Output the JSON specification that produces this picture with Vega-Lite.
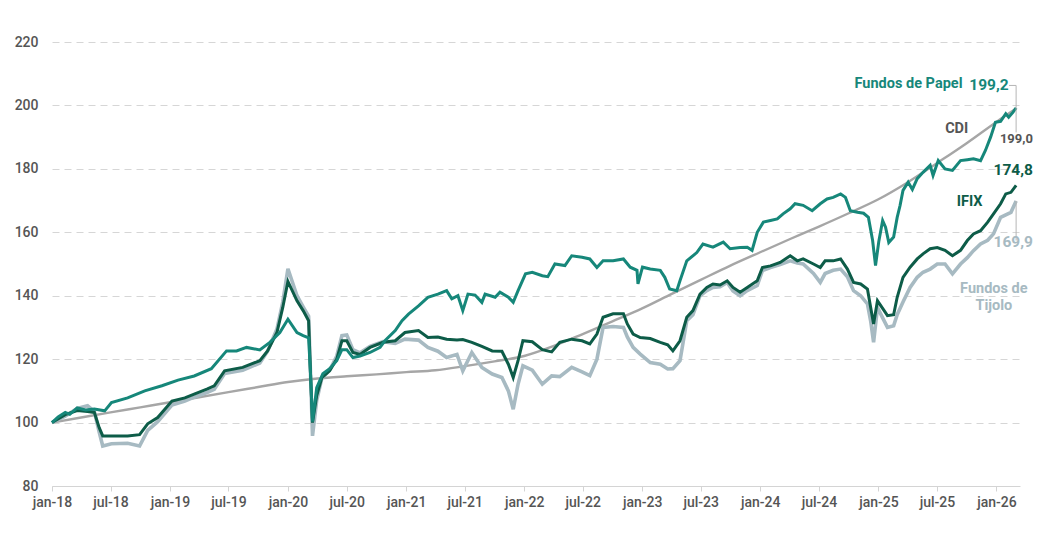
{
  "$schema": "https://vega.github.io/schema/vega-lite/v6.json",
  "width": 968,
  "height": 444,
  "autosize": {"type": "none"},
  "padding": {"left": 52, "top": 42, "right": 23, "bottom": 49},
  "config": {"font": "Roboto", "view": {"stroke": null}},
  "datasets": {
    "cdi": [
      {"d": "2018-01-01", "v": 100}, {"d": "2018-04-01", "v": 101.6}, {"d": "2018-07-01", "v": 103.2},
      {"d": "2018-10-01", "v": 104.8}, {"d": "2019-01-01", "v": 106.4}, {"d": "2019-04-01", "v": 108},
      {"d": "2019-07-01", "v": 109.6}, {"d": "2019-10-01", "v": 111.2}, {"d": "2020-01-01", "v": 112.8},
      {"d": "2020-04-01", "v": 113.9}, {"d": "2020-07-01", "v": 114.6}, {"d": "2020-10-01", "v": 115.2},
      {"d": "2021-01-01", "v": 115.9}, {"d": "2021-04-01", "v": 116.5}, {"d": "2021-07-01", "v": 117.8},
      {"d": "2021-10-01", "v": 119.3}, {"d": "2022-01-01", "v": 121.0}, {"d": "2022-04-01", "v": 124.1},
      {"d": "2022-07-01", "v": 127.9}, {"d": "2022-10-01", "v": 131.9}, {"d": "2023-01-01", "v": 136.0},
      {"d": "2023-04-01", "v": 140.5}, {"d": "2023-07-01", "v": 145.0}, {"d": "2023-10-01", "v": 149.5},
      {"d": "2024-01-01", "v": 153.7}, {"d": "2024-04-01", "v": 157.8}, {"d": "2024-07-01", "v": 161.8},
      {"d": "2024-10-01", "v": 166.0}, {"d": "2025-01-01", "v": 170.4}, {"d": "2025-04-01", "v": 175.7},
      {"d": "2025-07-01", "v": 181.8}, {"d": "2025-10-01", "v": 188.1}, {"d": "2026-01-01", "v": 194.8},
      {"d": "2026-03-03", "v": 199.0}
    ],
    "papel": [
      {"d": "2018-01-01", "v": 100}, {"d": "2018-01-20", "v": 101.8}, {"d": "2018-02-11", "v": 103.2},
      {"d": "2018-02-25", "v": 102.6}, {"d": "2018-03-20", "v": 104.6}, {"d": "2018-04-15", "v": 104.0},
      {"d": "2018-05-12", "v": 104.3}, {"d": "2018-06-13", "v": 103.7}, {"d": "2018-07-04", "v": 106.3},
      {"d": "2018-08-23", "v": 107.8}, {"d": "2018-10-15", "v": 110}, {"d": "2018-12-07", "v": 111.6},
      {"d": "2019-01-26", "v": 113.4}, {"d": "2019-03-17", "v": 114.7}, {"d": "2019-05-09", "v": 117},
      {"d": "2019-06-25", "v": 122.6}, {"d": "2019-07-26", "v": 122.6}, {"d": "2019-08-26", "v": 123.7},
      {"d": "2019-10-06", "v": 122.9}, {"d": "2019-11-06", "v": 125.3}, {"d": "2019-12-07", "v": 128.4},
      {"d": "2020-01-01", "v": 132.6}, {"d": "2020-01-29", "v": 128.4}, {"d": "2020-02-17", "v": 127.4},
      {"d": "2020-03-05", "v": 126.7}, {"d": "2020-03-11", "v": 115}, {"d": "2020-03-17", "v": 100.3},
      {"d": "2020-03-30", "v": 111}, {"d": "2020-04-18", "v": 115.4}, {"d": "2020-05-09", "v": 117},
      {"d": "2020-05-31", "v": 119.5}, {"d": "2020-06-16", "v": 123}, {"d": "2020-07-01", "v": 123},
      {"d": "2020-07-20", "v": 120.5}, {"d": "2020-08-11", "v": 121}, {"d": "2020-09-11", "v": 122.1},
      {"d": "2020-10-12", "v": 123.7}, {"d": "2020-10-27", "v": 125.8}, {"d": "2020-11-28", "v": 129},
      {"d": "2020-12-19", "v": 132.1}, {"d": "2021-01-08", "v": 134.2}, {"d": "2021-02-08", "v": 136.8},
      {"d": "2021-03-09", "v": 139.5}, {"d": "2021-04-09", "v": 140.5}, {"d": "2021-05-06", "v": 141.6},
      {"d": "2021-05-22", "v": 139}, {"d": "2021-06-10", "v": 140}, {"d": "2021-06-25", "v": 135.3},
      {"d": "2021-07-11", "v": 140.5}, {"d": "2021-08-02", "v": 140.2}, {"d": "2021-08-23", "v": 137.9},
      {"d": "2021-09-02", "v": 140.5}, {"d": "2021-10-03", "v": 139.5}, {"d": "2021-10-18", "v": 141.1},
      {"d": "2021-11-13", "v": 139.5}, {"d": "2021-11-28", "v": 137.9}, {"d": "2021-12-13", "v": 141.6},
      {"d": "2022-01-05", "v": 146.9}, {"d": "2022-01-26", "v": 147.4}, {"d": "2022-02-26", "v": 146.3},
      {"d": "2022-03-15", "v": 146}, {"d": "2022-04-06", "v": 150}, {"d": "2022-05-07", "v": 149.5},
      {"d": "2022-05-28", "v": 152.6}, {"d": "2022-06-29", "v": 152.1}, {"d": "2022-07-23", "v": 151.6},
      {"d": "2022-08-14", "v": 148.9}, {"d": "2022-09-02", "v": 151}, {"d": "2022-10-03", "v": 151},
      {"d": "2022-11-04", "v": 151.6}, {"d": "2022-11-25", "v": 149}, {"d": "2022-12-16", "v": 148},
      {"d": "2022-12-19", "v": 143.7}, {"d": "2023-01-02", "v": 149}, {"d": "2023-01-26", "v": 148.4},
      {"d": "2023-02-26", "v": 148}, {"d": "2023-03-12", "v": 145.8}, {"d": "2023-03-27", "v": 142.1},
      {"d": "2023-04-18", "v": 141.6}, {"d": "2023-04-28", "v": 144.7}, {"d": "2023-05-19", "v": 151},
      {"d": "2023-06-19", "v": 153.6}, {"d": "2023-07-08", "v": 156.3}, {"d": "2023-08-08", "v": 155.3},
      {"d": "2023-09-09", "v": 156.9}, {"d": "2023-09-30", "v": 154.8}, {"d": "2023-10-31", "v": 155.2},
      {"d": "2023-11-22", "v": 155.3}, {"d": "2023-12-07", "v": 154.3}, {"d": "2023-12-23", "v": 160},
      {"d": "2024-01-11", "v": 163.2}, {"d": "2024-02-02", "v": 163.7}, {"d": "2024-02-23", "v": 164.2},
      {"d": "2024-03-12", "v": 165.8}, {"d": "2024-04-03", "v": 167.4}, {"d": "2024-04-18", "v": 169},
      {"d": "2024-05-13", "v": 168.5}, {"d": "2024-06-10", "v": 166.8}, {"d": "2024-07-05", "v": 169},
      {"d": "2024-07-26", "v": 170.5}, {"d": "2024-08-14", "v": 171}, {"d": "2024-09-06", "v": 172.1},
      {"d": "2024-09-21", "v": 171}, {"d": "2024-10-06", "v": 166.8}, {"d": "2024-10-28", "v": 166.3},
      {"d": "2024-11-16", "v": 166}, {"d": "2024-12-01", "v": 164.7}, {"d": "2024-12-14", "v": 157.4},
      {"d": "2024-12-23", "v": 149.5}, {"d": "2025-01-02", "v": 157}, {"d": "2025-01-14", "v": 163.7},
      {"d": "2025-01-23", "v": 161.6}, {"d": "2025-02-02", "v": 156.8}, {"d": "2025-02-17", "v": 158.5},
      {"d": "2025-02-28", "v": 164.7}, {"d": "2025-03-09", "v": 168.5}, {"d": "2025-03-18", "v": 173.2},
      {"d": "2025-04-03", "v": 175.8}, {"d": "2025-04-16", "v": 173.5}, {"d": "2025-05-01", "v": 176.9},
      {"d": "2025-05-19", "v": 178.9}, {"d": "2025-06-10", "v": 181.1}, {"d": "2025-06-19", "v": 177.9},
      {"d": "2025-07-05", "v": 182.6}, {"d": "2025-07-26", "v": 180}, {"d": "2025-08-18", "v": 179.5},
      {"d": "2025-09-12", "v": 182.6}, {"d": "2025-10-03", "v": 182.9}, {"d": "2025-10-22", "v": 183.2},
      {"d": "2025-11-13", "v": 182.6}, {"d": "2025-11-28", "v": 185.8}, {"d": "2025-12-14", "v": 190},
      {"d": "2025-12-29", "v": 194.7}, {"d": "2026-01-14", "v": 195}, {"d": "2026-01-30", "v": 197.4},
      {"d": "2026-02-08", "v": 196.3}, {"d": "2026-02-21", "v": 197.8}, {"d": "2026-03-03", "v": 199.2}
    ],
    "ifix": [
      {"d": "2018-01-01", "v": 100}, {"d": "2018-02-11", "v": 102.5}, {"d": "2018-03-20", "v": 103.8},
      {"d": "2018-04-21", "v": 103.5}, {"d": "2018-05-12", "v": 103.2}, {"d": "2018-05-27", "v": 98.4},
      {"d": "2018-06-07", "v": 95.8}, {"d": "2018-07-04", "v": 95.8}, {"d": "2018-08-23", "v": 95.8},
      {"d": "2018-09-29", "v": 96.2}, {"d": "2018-10-24", "v": 99.6}, {"d": "2018-11-24", "v": 101.6},
      {"d": "2019-01-07", "v": 106.8}, {"d": "2019-02-16", "v": 107.8}, {"d": "2019-03-17", "v": 109},
      {"d": "2019-04-27", "v": 110.6}, {"d": "2019-05-18", "v": 111.6}, {"d": "2019-06-19", "v": 116.3},
      {"d": "2019-08-14", "v": 117.4}, {"d": "2019-10-06", "v": 119.5}, {"d": "2019-10-30", "v": 122.6},
      {"d": "2019-11-28", "v": 128.4}, {"d": "2019-12-16", "v": 136.3}, {"d": "2020-01-01", "v": 144.5},
      {"d": "2020-01-29", "v": 138.4}, {"d": "2020-02-17", "v": 135.3}, {"d": "2020-03-05", "v": 132.1},
      {"d": "2020-03-11", "v": 115}, {"d": "2020-03-17", "v": 100}, {"d": "2020-03-30", "v": 108.5},
      {"d": "2020-04-15", "v": 114.2}, {"d": "2020-05-09", "v": 116.3}, {"d": "2020-05-31", "v": 120},
      {"d": "2020-06-16", "v": 125.8}, {"d": "2020-07-01", "v": 125.8}, {"d": "2020-07-20", "v": 122.1},
      {"d": "2020-08-11", "v": 121.5}, {"d": "2020-09-11", "v": 123.7}, {"d": "2020-10-21", "v": 125.3},
      {"d": "2020-11-28", "v": 125.8}, {"d": "2020-12-28", "v": 128.4}, {"d": "2021-02-08", "v": 129},
      {"d": "2021-03-09", "v": 126.8}, {"d": "2021-04-09", "v": 127}, {"d": "2021-05-06", "v": 126.3},
      {"d": "2021-06-07", "v": 126}, {"d": "2021-06-25", "v": 126.2}, {"d": "2021-07-23", "v": 125.3},
      {"d": "2021-08-23", "v": 124}, {"d": "2021-09-24", "v": 122.6}, {"d": "2021-10-24", "v": 122.5},
      {"d": "2021-11-13", "v": 118.4}, {"d": "2021-11-28", "v": 114.2}, {"d": "2021-12-13", "v": 119.5},
      {"d": "2021-12-28", "v": 125.8}, {"d": "2022-01-26", "v": 125.5}, {"d": "2022-02-26", "v": 123},
      {"d": "2022-03-27", "v": 122.3}, {"d": "2022-04-21", "v": 125.3}, {"d": "2022-05-28", "v": 126.3},
      {"d": "2022-06-29", "v": 125.8}, {"d": "2022-07-23", "v": 124.8}, {"d": "2022-08-14", "v": 127.9},
      {"d": "2022-09-02", "v": 133.2}, {"d": "2022-10-03", "v": 134.3}, {"d": "2022-11-04", "v": 134.3},
      {"d": "2022-11-16", "v": 131.1}, {"d": "2022-12-04", "v": 127.9}, {"d": "2022-12-26", "v": 126.8},
      {"d": "2023-01-26", "v": 126.5}, {"d": "2023-02-26", "v": 125.3}, {"d": "2023-03-21", "v": 124.5},
      {"d": "2023-04-06", "v": 122.6}, {"d": "2023-04-28", "v": 125.8}, {"d": "2023-05-19", "v": 133.2},
      {"d": "2023-06-07", "v": 135.3}, {"d": "2023-06-29", "v": 140.5}, {"d": "2023-07-20", "v": 142.6},
      {"d": "2023-08-08", "v": 143.7}, {"d": "2023-08-30", "v": 143.4}, {"d": "2023-09-21", "v": 144.7},
      {"d": "2023-10-09", "v": 142.6}, {"d": "2023-10-31", "v": 141.1}, {"d": "2023-11-22", "v": 142.6},
      {"d": "2023-12-23", "v": 144.7}, {"d": "2024-01-08", "v": 148.9}, {"d": "2024-02-02", "v": 149.4},
      {"d": "2024-03-03", "v": 150.5}, {"d": "2024-04-03", "v": 152.6}, {"d": "2024-04-25", "v": 151},
      {"d": "2024-05-13", "v": 151.6}, {"d": "2024-06-14", "v": 150}, {"d": "2024-07-05", "v": 148.9},
      {"d": "2024-07-20", "v": 151}, {"d": "2024-08-14", "v": 151}, {"d": "2024-09-06", "v": 151.6},
      {"d": "2024-09-27", "v": 148.4}, {"d": "2024-10-16", "v": 144.2}, {"d": "2024-11-07", "v": 143.7},
      {"d": "2024-11-28", "v": 142.1}, {"d": "2024-12-08", "v": 136.3}, {"d": "2024-12-17", "v": 131.1},
      {"d": "2024-12-29", "v": 138.4}, {"d": "2025-01-14", "v": 136}, {"d": "2025-01-29", "v": 133.7},
      {"d": "2025-02-17", "v": 134}, {"d": "2025-02-28", "v": 139.5}, {"d": "2025-03-18", "v": 145.8},
      {"d": "2025-04-09", "v": 149}, {"d": "2025-05-01", "v": 151.6}, {"d": "2025-05-19", "v": 153.2},
      {"d": "2025-06-10", "v": 154.8}, {"d": "2025-07-02", "v": 155.2}, {"d": "2025-07-26", "v": 154.3},
      {"d": "2025-08-18", "v": 152.6}, {"d": "2025-09-12", "v": 154.3}, {"d": "2025-10-03", "v": 157.4},
      {"d": "2025-10-22", "v": 159.5}, {"d": "2025-11-13", "v": 160.5}, {"d": "2025-12-05", "v": 163.2},
      {"d": "2025-12-23", "v": 165.8}, {"d": "2026-01-14", "v": 169}, {"d": "2026-01-30", "v": 172.1},
      {"d": "2026-02-15", "v": 172.6}, {"d": "2026-03-03", "v": 174.8}
    ],
    "tijolo": [
      {"d": "2018-01-01", "v": 100}, {"d": "2018-02-11", "v": 102}, {"d": "2018-03-20", "v": 104.5},
      {"d": "2018-04-21", "v": 105.3}, {"d": "2018-05-12", "v": 103.5}, {"d": "2018-05-27", "v": 97},
      {"d": "2018-06-07", "v": 92.6}, {"d": "2018-07-04", "v": 93.3}, {"d": "2018-08-23", "v": 93.5},
      {"d": "2018-09-29", "v": 92.6}, {"d": "2018-10-24", "v": 97.5}, {"d": "2018-11-24", "v": 100.3},
      {"d": "2019-01-07", "v": 105.5}, {"d": "2019-02-16", "v": 106.8}, {"d": "2019-03-17", "v": 108},
      {"d": "2019-04-27", "v": 109.5}, {"d": "2019-05-18", "v": 110.5}, {"d": "2019-06-19", "v": 115.5},
      {"d": "2019-08-14", "v": 116.5}, {"d": "2019-10-06", "v": 118.8}, {"d": "2019-10-30", "v": 122.5},
      {"d": "2019-11-28", "v": 129.5}, {"d": "2019-12-16", "v": 138}, {"d": "2020-01-01", "v": 148.5},
      {"d": "2020-01-29", "v": 140}, {"d": "2020-02-17", "v": 136.5}, {"d": "2020-03-05", "v": 133.5},
      {"d": "2020-03-11", "v": 115}, {"d": "2020-03-17", "v": 95.8}, {"d": "2020-03-30", "v": 107},
      {"d": "2020-04-15", "v": 114}, {"d": "2020-05-09", "v": 116.5}, {"d": "2020-05-31", "v": 121},
      {"d": "2020-06-16", "v": 127.4}, {"d": "2020-07-01", "v": 127.6}, {"d": "2020-07-20", "v": 123},
      {"d": "2020-08-11", "v": 122}, {"d": "2020-09-11", "v": 124}, {"d": "2020-10-21", "v": 125.5},
      {"d": "2020-11-28", "v": 125}, {"d": "2020-12-28", "v": 126.3}, {"d": "2021-02-08", "v": 126},
      {"d": "2021-03-09", "v": 123.7}, {"d": "2021-04-09", "v": 122.5}, {"d": "2021-05-06", "v": 120.5},
      {"d": "2021-06-07", "v": 121.5}, {"d": "2021-06-25", "v": 116.3}, {"d": "2021-07-23", "v": 122.1},
      {"d": "2021-08-23", "v": 117.4}, {"d": "2021-09-24", "v": 115.3}, {"d": "2021-10-24", "v": 114.2},
      {"d": "2021-11-13", "v": 110}, {"d": "2021-11-28", "v": 104.2}, {"d": "2021-12-13", "v": 112.1},
      {"d": "2021-12-28", "v": 117.9}, {"d": "2022-01-26", "v": 116.5}, {"d": "2022-02-26", "v": 112.1},
      {"d": "2022-03-27", "v": 114.7}, {"d": "2022-04-21", "v": 114.5}, {"d": "2022-05-28", "v": 117.4},
      {"d": "2022-06-29", "v": 116}, {"d": "2022-07-23", "v": 114.8}, {"d": "2022-08-14", "v": 120},
      {"d": "2022-09-02", "v": 130}, {"d": "2022-10-03", "v": 130.3}, {"d": "2022-11-04", "v": 130},
      {"d": "2022-11-16", "v": 127}, {"d": "2022-12-04", "v": 123.7}, {"d": "2022-12-26", "v": 121.6},
      {"d": "2023-01-26", "v": 118.9}, {"d": "2023-02-26", "v": 118.4}, {"d": "2023-03-21", "v": 116.9},
      {"d": "2023-04-06", "v": 117}, {"d": "2023-04-28", "v": 119.5}, {"d": "2023-05-19", "v": 132.1},
      {"d": "2023-06-07", "v": 134}, {"d": "2023-06-29", "v": 140}, {"d": "2023-07-20", "v": 141.6},
      {"d": "2023-08-08", "v": 142.6}, {"d": "2023-08-30", "v": 142.8}, {"d": "2023-09-21", "v": 144.2},
      {"d": "2023-10-09", "v": 141.5}, {"d": "2023-10-31", "v": 140}, {"d": "2023-11-22", "v": 141.6},
      {"d": "2023-12-23", "v": 143.2}, {"d": "2024-01-08", "v": 147.9}, {"d": "2024-02-02", "v": 148.9},
      {"d": "2024-03-03", "v": 149.8}, {"d": "2024-04-03", "v": 151}, {"d": "2024-04-25", "v": 150.3},
      {"d": "2024-05-13", "v": 150}, {"d": "2024-06-14", "v": 147}, {"d": "2024-07-05", "v": 144.2},
      {"d": "2024-07-20", "v": 147}, {"d": "2024-08-14", "v": 148}, {"d": "2024-09-06", "v": 148.4},
      {"d": "2024-09-27", "v": 146}, {"d": "2024-10-16", "v": 141.6}, {"d": "2024-11-07", "v": 140},
      {"d": "2024-11-28", "v": 137.4}, {"d": "2024-12-08", "v": 132}, {"d": "2024-12-17", "v": 125.3},
      {"d": "2024-12-29", "v": 136.3}, {"d": "2025-01-14", "v": 133}, {"d": "2025-01-29", "v": 130},
      {"d": "2025-02-17", "v": 130.5}, {"d": "2025-02-28", "v": 134}, {"d": "2025-03-18", "v": 138},
      {"d": "2025-04-09", "v": 142.6}, {"d": "2025-05-01", "v": 145.8}, {"d": "2025-05-19", "v": 147.4},
      {"d": "2025-06-10", "v": 148.4}, {"d": "2025-07-02", "v": 150}, {"d": "2025-07-26", "v": 150},
      {"d": "2025-08-18", "v": 146.9}, {"d": "2025-09-12", "v": 150}, {"d": "2025-10-03", "v": 152},
      {"d": "2025-10-22", "v": 154.2}, {"d": "2025-11-13", "v": 156.3}, {"d": "2025-12-05", "v": 157.5},
      {"d": "2025-12-23", "v": 159.5}, {"d": "2026-01-14", "v": 164.7}, {"d": "2026-01-30", "v": 165.5},
      {"d": "2026-02-15", "v": 166.3}, {"d": "2026-03-03", "v": 169.9}
    ],
    "names": [
      {"d": "2025-09-18", "v": 206.9, "t": "Fundos de Papel", "s": "papel"},
      {"d": "2025-10-06", "v": 192.7, "t": "CDI", "s": "cdi"},
      {"d": "2025-11-19", "v": 169.5, "t": "IFIX", "s": "ifix"}
    ],
    "tij": [
      {"d": "2025-12-24", "v": 142.0, "t": "Fundos de", "s": "tijolo"},
      {"d": "2025-12-24", "v": 136.6, "t": "Tijolo", "s": "tijolo"}
    ],
    "nums": [
      {"d": "2026-02-08", "v": 206.3, "t": "199,2", "s": "papel"},
      {"d": "2026-04-24", "v": 179.5, "t": "174,8", "s": "ifix"},
      {"d": "2026-04-24", "v": 157.0, "t": "169,9", "s": "tijolo"}
    ],
    "cdinum": [
      {"d": "2026-04-24", "v": 189.3, "t": "199,0", "s": "cdi"}
    ],
    "leaders": [
      {"d": "2026-02-09", "d2": "2026-03-03", "v": 206.3, "v2": 206.3},
      {"d": "2026-03-03", "d2": "2026-03-03", "v": 206.3, "v2": 191.5},
      {"d": "2026-03-03", "d2": "2026-03-03", "v": 169.9, "v2": 157.4}
    ]
  },
  "encoding": {
    "x": {
      "field": "d",
      "type": "temporal",
      "title": null,
      "scale": {
        "type": "utc",
        "nice": false,
        "domain": [
          {"year": 2018, "month": 1, "date": 1, "utc": true},
          {"year": 2026, "month": 3, "date": 15, "utc": true}
        ]
      },
      "axis": {
        "values": [
          {"year": 2018, "month": 1, "date": 1, "utc": true}, {"year": 2018, "month": 7, "date": 1, "utc": true},
          {"year": 2019, "month": 1, "date": 1, "utc": true}, {"year": 2019, "month": 7, "date": 1, "utc": true},
          {"year": 2020, "month": 1, "date": 1, "utc": true}, {"year": 2020, "month": 7, "date": 1, "utc": true},
          {"year": 2021, "month": 1, "date": 1, "utc": true}, {"year": 2021, "month": 7, "date": 1, "utc": true},
          {"year": 2022, "month": 1, "date": 1, "utc": true}, {"year": 2022, "month": 7, "date": 1, "utc": true},
          {"year": 2023, "month": 1, "date": 1, "utc": true}, {"year": 2023, "month": 7, "date": 1, "utc": true},
          {"year": 2024, "month": 1, "date": 1, "utc": true}, {"year": 2024, "month": 7, "date": 1, "utc": true},
          {"year": 2025, "month": 1, "date": 1, "utc": true}, {"year": 2025, "month": 7, "date": 1, "utc": true},
          {"year": 2026, "month": 1, "date": 1, "utc": true}
        ],
        "labelExpr": "lower(utcFormat(datum.value, '%b-%y'))",
        "labelFlush": false,
        "labelOverlap": false,
        "grid": false,
        "domainColor": "#d4d4d4",
        "tickColor": "#d4d4d4",
        "tickSize": 5,
        "labelPadding": 4,
        "labelFontSize": 14,
        "labelColor": "#555555",
        "labelFontWeight": 500
      }
    },
    "y": {
      "field": "v",
      "type": "quantitative",
      "title": null,
      "scale": {"domain": [80, 220], "nice": false, "zero": false},
      "axis": {
        "values": [80, 100, 120, 140, 160, 180, 200, 220],
        "domain": false,
        "ticks": false,
        "labelPadding": 14,
        "labelFontSize": 14,
        "labelColor": "#555555",
        "labelFontWeight": 500,
        "gridColor": "#d6d6d6",
        "gridDash": [7, 5],
        "gridWidth": 1
      }
    }
  },
  "layer": [
    {
      "data": {"name": "cdi"},
      "mark": {"type": "line", "color": "#a6a6a6", "strokeWidth": 2.4, "interpolate": "monotone"}
    },
    {
      "data": {"name": "tijolo"},
      "mark": {"type": "line", "color": "#a7bac2", "strokeWidth": 3.6}
    },
    {
      "data": {"name": "ifix"},
      "mark": {"type": "line", "color": "#0d5c48", "strokeWidth": 3}
    },
    {
      "data": {"name": "papel"},
      "mark": {"type": "line", "color": "#16877a", "strokeWidth": 3}
    },
    {
      "data": {"name": "leaders"},
      "mark": {"type": "rule", "color": "#b5b5b5", "strokeWidth": 1},
      "encoding": {"x2": {"field": "d2"}, "y2": {"field": "v2"}}
    },
    {
      "data": {"name": "names"},
      "mark": {"type": "text", "align": "right", "baseline": "middle", "fontSize": 14.5, "fontWeight": "bold"},
      "encoding": {
        "text": {"field": "t"},
        "color": {"field": "s", "type": "nominal", "legend": null,
          "scale": {"domain": ["papel", "cdi", "ifix", "tijolo"], "range": ["#16877a", "#555555", "#0d5c48", "#a7bac2"]}}
      }
    },
    {
      "data": {"name": "tij"},
      "mark": {"type": "text", "align": "center", "baseline": "middle", "fontSize": 14.5, "fontWeight": "bold", "color": "#a7bac2"},
      "encoding": {"text": {"field": "t"}}
    },
    {
      "data": {"name": "nums"},
      "mark": {"type": "text", "align": "right", "baseline": "middle", "fontSize": 15.5, "fontWeight": "bold"},
      "encoding": {
        "text": {"field": "t"},
        "color": {"field": "s", "type": "nominal", "legend": null,
          "scale": {"domain": ["papel", "cdi", "ifix", "tijolo"], "range": ["#16877a", "#555555", "#0d5c48", "#a7bac2"]}}
      }
    },
    {
      "data": {"name": "cdinum"},
      "mark": {"type": "text", "align": "right", "baseline": "middle", "fontSize": 13, "fontWeight": "bold", "color": "#555555"},
      "encoding": {"text": {"field": "t"}}
    }
  ]
}
